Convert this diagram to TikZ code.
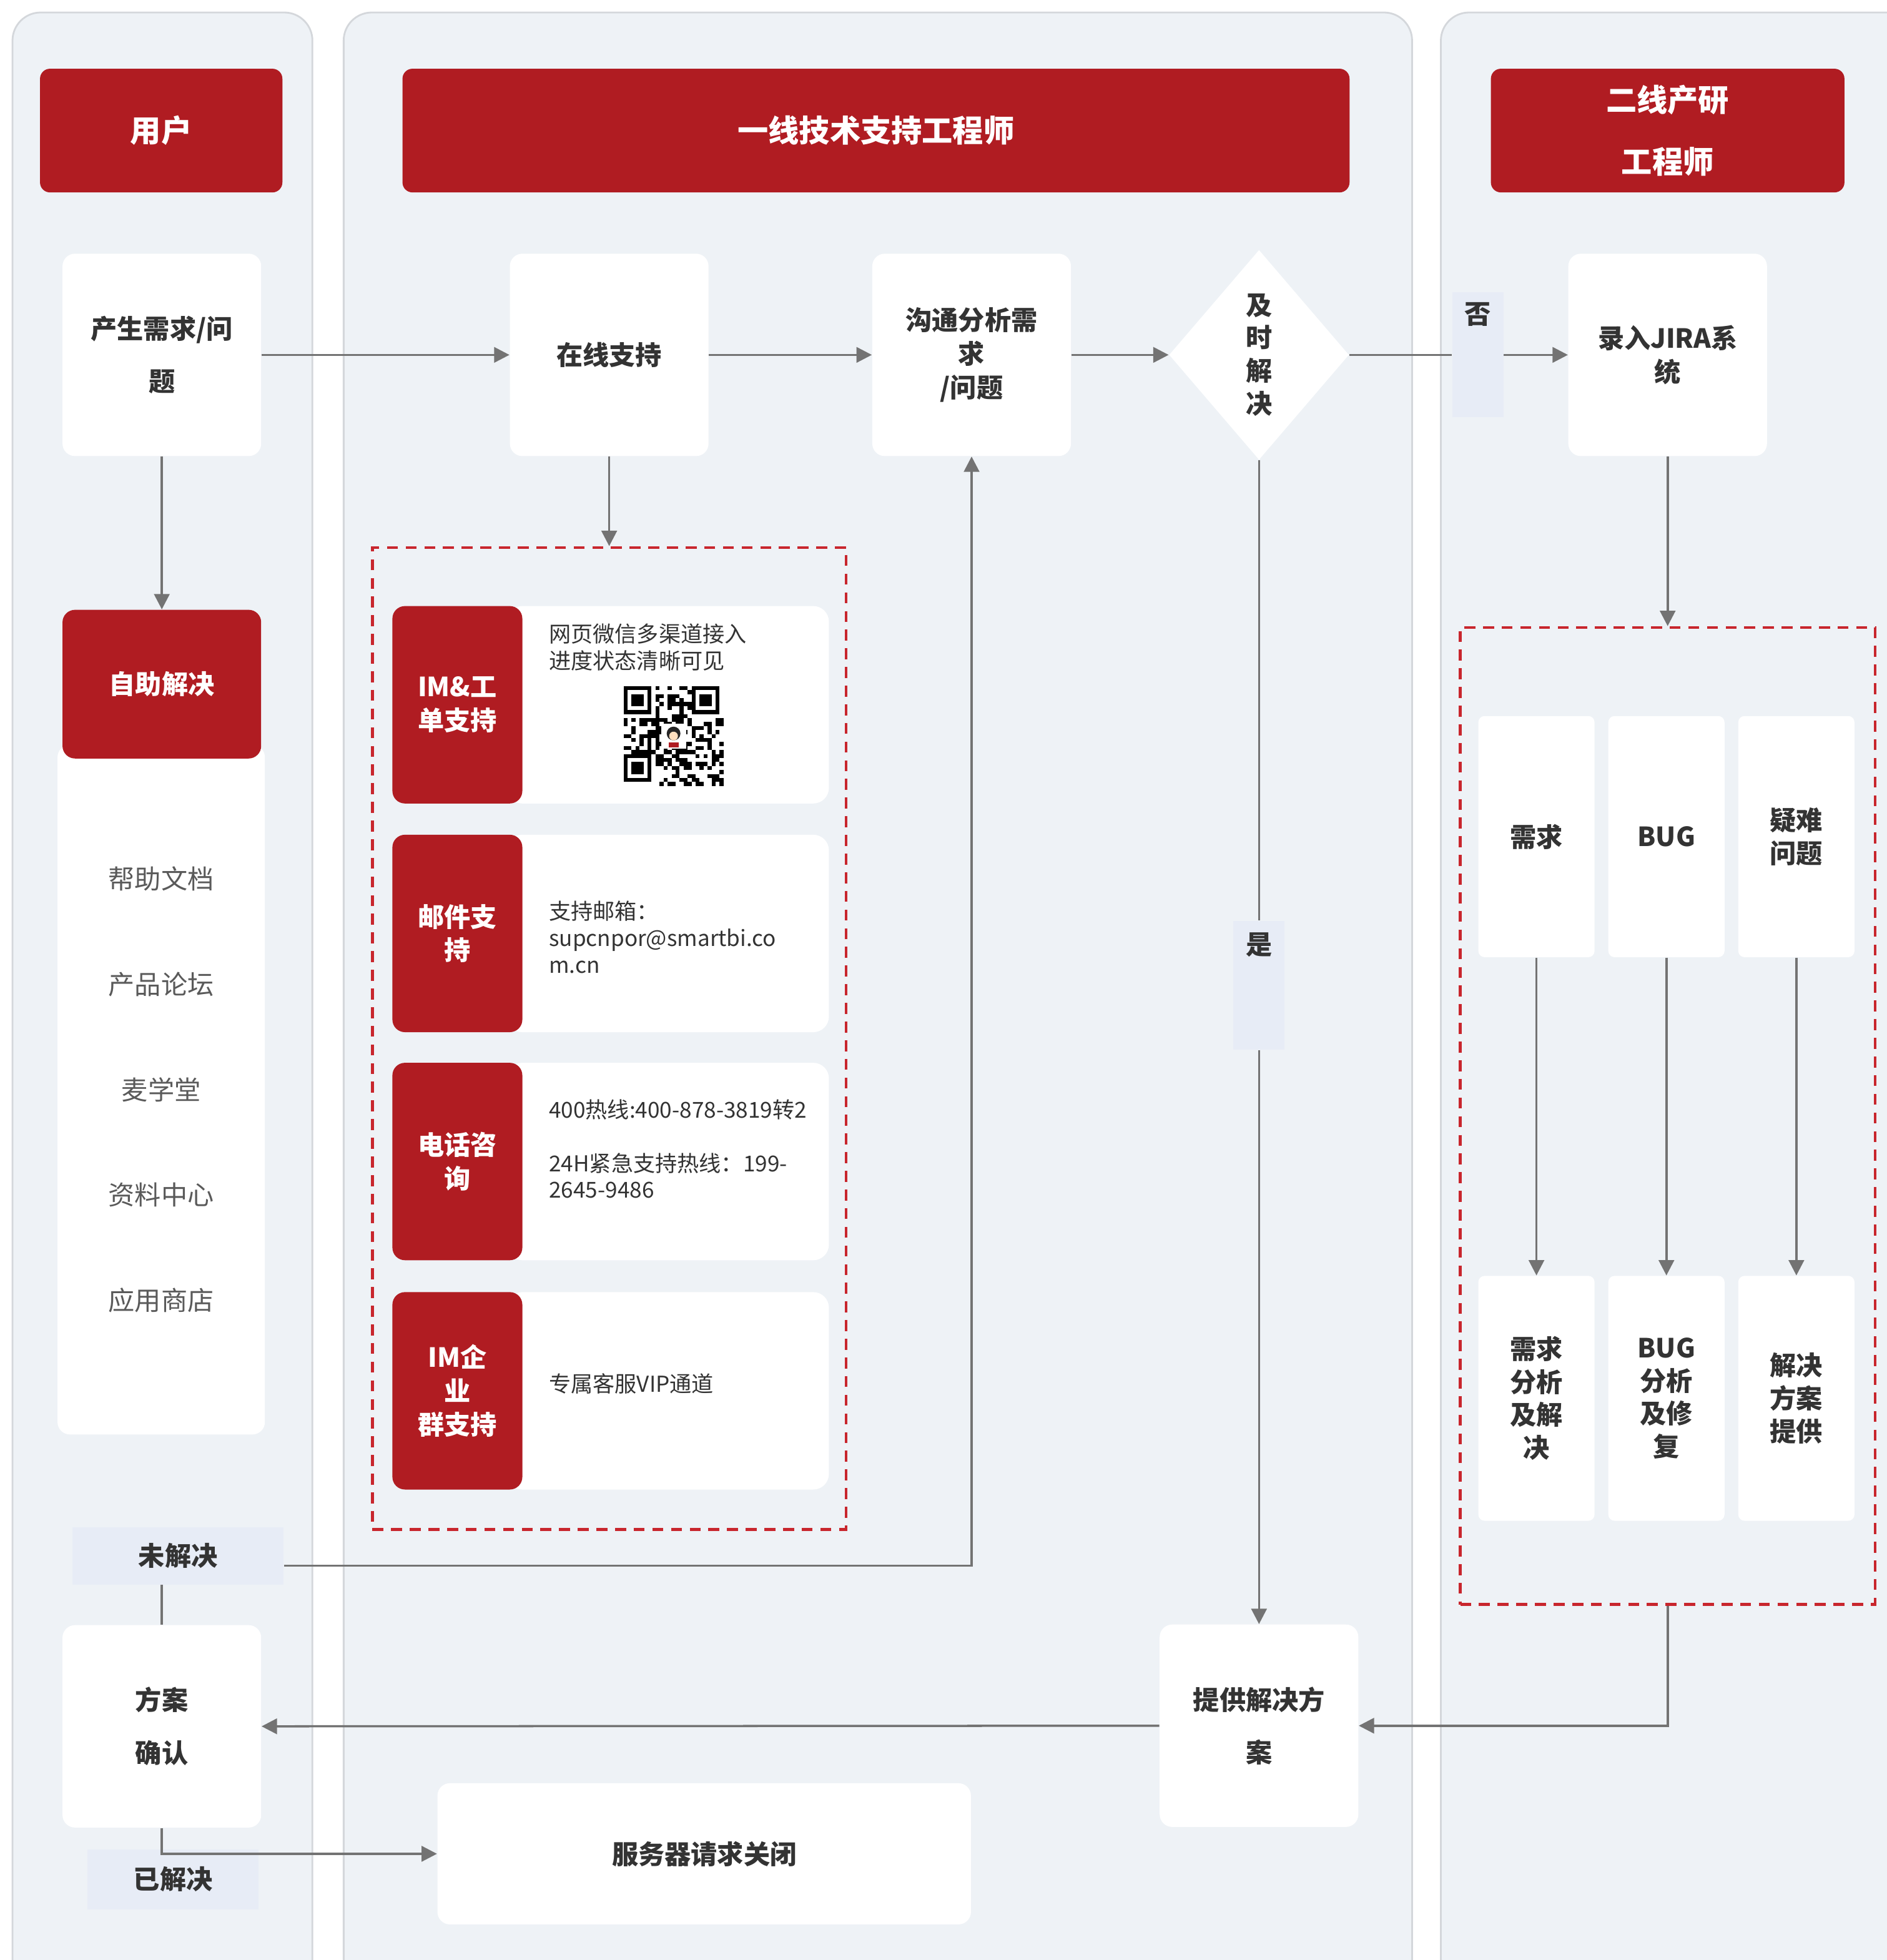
\documentclass[tikz,border=0pt]{standalone}
\usepackage{fontspec}
\setmainfont{Noto Sans CJK SC}
\usetikzlibrary{shapes.geometric,arrows.meta}
\definecolor{hdred}{HTML}{B01C22}
\definecolor{dashred}{HTML}{C8262D}
\definecolor{lanebg}{HTML}{EEF2F6}
\definecolor{laneln}{HTML}{D4D7DB}
\definecolor{tagbg}{HTML}{E7ECF6}
\definecolor{flow}{HTML}{737373}
\definecolor{ink}{HTML}{333333}
\definecolor{soft}{HTML}{5A5A5A}
\begin{document}
\begin{tikzpicture}[x=0.02cm,y=-0.02cm,>={Triangle[length=7pt,width=7pt]},
  lane/.style={fill=lanebg,draw=laneln,line width=0.8pt,rounded corners=0.45cm},
  headbox/.style={fill=hdred,rounded corners=0.16cm,text=white,align=center,inner sep=0pt,
    minimum height=1.98cm,font=\fontsize{14}{28.4}\selectfont\bfseries},
  card/.style={fill=white,rounded corners=0.2cm,text=ink,align=center,inner sep=0pt,
    minimum width=3.18cm,minimum height=3.24cm,font=\fontsize{12}{15.3}\selectfont\bfseries},
  loose/.style={font=\fontsize{12}{24}\selectfont\bfseries},
  tag/.style={fill=tagbg,text=ink,inner sep=0pt,font=\fontsize{12}{15}\selectfont\bfseries},
  dashbox/.style={draw=dashred,line width=1.2pt,dash pattern=on 5pt off 3.5pt,inner sep=0pt},
  chanlab/.style={fill=hdred,rounded corners=0.2cm,text=white,align=center,inner sep=0pt,
    minimum width=2.08cm,minimum height=3.16cm,font=\fontsize{12}{15.3}\selectfont\bfseries},
  chantxt/.style={fill=white,rounded corners=0.25cm,text=ink,align=left,anchor=west,
    inner xsep=0.68cm,inner ysep=0pt,text width=3.8cm,minimum height=3.16cm,
    font=\fontsize{10}{12.2}\selectfont},
  subcard/.style={fill=white,rounded corners=0.1cm,text=ink,align=center,inner sep=0pt,
    minimum width=1.86cm,font=\fontsize{12}{15}\selectfont\bfseries},
  flowline/.style={draw=flow,line width=1pt}]
  \useasboundingbox (0,0) rectangle (1510,1568.5);
  \draw[lane] (10,10) rectangle (250,1590);
  \draw[lane] (275,10) rectangle (1130,1590);
  \draw[lane] (1153,10) rectangle (1540,1590);

  \node[headbox,minimum width=3.88cm] (huser) at (129,104.5) {用户};
  \node[headbox,minimum width=15.16cm] (hfirst) at (701,104.5) {一线技术支持工程师};
  \node[headbox,minimum width=5.66cm] (hsecond) at (1334.5,104.5) {二线产研\\工程师};

  \node[card,loose] (need) at (129.5,284) {产生需求/问\\题};
  \node[card] (online) at (487.5,284) {在线支持};
  \node[card] (comm) at (777.5,284) {沟通分析需\\求\\/问题};
  \node[diamond,fill=white,inner sep=0pt,minimum width=2.88cm,minimum height=3.36cm,align=center,
    text=ink,font=\fontsize{12}{15}\selectfont\bfseries] (dia) at (1007.5,284) {及\\时\\解\\决};
  \node[tag,minimum width=0.82cm,text height=0.5cm,text depth=1.5cm] (no) at (1182.5,284) {否};
  \node[card] (jira) at (1334.5,284) {录入JIRA系\\统};

  \node[fill=white,rounded corners=0.2cm,minimum width=3.32cm,minimum height=11.04cm,text=soft,
    align=center,font=\fontsize{12}{48}\selectfont] (tools) at (129,872)
    {帮助文档\\产品论坛\\麦学堂\\资料中心\\应用商店};
  \node[chanlab,minimum width=3.18cm,minimum height=2.38cm] (self) at (129.5,547.5) {自助解决};

  \node[tag,minimum width=3.38cm,minimum height=0.92cm] (unres) at (142.5,1245) {未解决};
  \node[card,loose] (confirm) at (129.5,1381.5) {方案\\确认};
  \node[tag,minimum width=2.74cm,minimum height=0.96cm] (res) at (138.5,1504) {已解决};
  \node[card,minimum width=8.54cm,minimum height=2.26cm] (close) at (563.5,1483.5) {服务器请求关闭};
  \node[card,loose] (provide) at (1007.5,1381) {提供解决方\\案};
  \node[tag,minimum width=0.82cm,text height=0.54cm,text depth=1.52cm] (yes) at (1007.5,788.5) {是};

  \node[dashbox,minimum width=7.58cm,minimum height=15.72cm] (chan) at (487.5,831) {};
  \node[chantxt,text height=0.38cm,text depth=2.38cm,inner ysep=0.2cm] (ch1t) at (405,564)
    {网页微信多渠道接入\\进度状态清晰可见};
  \node[chanlab] (ch1) at (366,564) {IM\&工\\单支持};
  \node[chantxt,text height=1.36cm,text depth=1.8cm] (ch2t) at (405,747)
    {\mbox{支持邮箱：}\\\mbox{supcnpor@smartbi.co}\\\mbox{m.cn}};
  \node[chanlab] (ch2) at (366,747) {邮件支\\持};
  \node[chantxt,text height=0.88cm,text depth=2.28cm] (ch3t) at (405,929.5)
    {\mbox{400热线:400-878-3819转2}\\[0.43cm]\mbox{24H紧急支持热线：199-}\\\mbox{2645-9486}};
  \node[chanlab] (ch3) at (366,929.5) {电话咨\\询};
  \node[chantxt,text height=1.6cm,text depth=1.56cm] (ch4t) at (405,1113) {专属客服VIP通道};
  \node[chanlab] (ch4) at (366,1113) {IM企\\业\\群支持};

  \begin{scope}[shift={(499,549)}]
    \pgfmathsetseed{17}
    \foreach \i in {0,...,24}{
      \foreach \j in {0,...,24}{
        \pgfmathtruncatemacro{\qa}{((\i>7)||(\j>7))&&((\i<17)||(\j>7))&&((\i>7)||(\j<17))}
        \pgfmathrandominteger{\qb}{0}{1}
        \ifnum\numexpr\qa*\qb\relax=1
          \fill ({\i*3.2},{\j*3.2}) rectangle ++(3.2,3.2);
        \fi
      }
    }
    \foreach \fx/\fy in {0/0,17/0,0/17}{
      \fill ({\fx*3.2},{\fy*3.2}) rectangle ++(22.4,22.4);
      \fill[white] ({(\fx+1)*3.2},{(\fy+1)*3.2}) rectangle ++(16,16);
      \fill ({(\fx+2)*3.2},{(\fy+2)*3.2}) rectangle ++(9.6,9.6);
    }
    \fill[white] (30,30) rectangle (50,50);
    \fill[black!85] (40,38) circle (5.5);
    \fill[orange!25] (40,40) circle (3.5);
    \fill[hdred] (36,45) rectangle (44,49);
  \end{scope}

  \node[dashbox,minimum width=6.64cm,minimum height=15.64cm] (rbox) at (1334.5,893) {};
  \foreach \cx/\ta/\tb [count=\k] in {1229.5/{需求}/{需求\\分析\\及解\\决},
      1333.5/{BUG}/{BUG\\分析\\及修\\复},1437.5/{疑难\\问题}/{解决\\方案\\提供}}{
    \node[subcard,minimum height=3.86cm] (rt\k) at (\cx,669.5) {\ta};
    \node[subcard,minimum height=3.92cm] (rb\k) at (\cx,1119) {\tb};
    \draw[flowline,->] (rt\k.south) -- (rb\k.north);
  }

  \draw[flowline,->] (need.east) -- (online.west);
  \draw[flowline,->] (online.east) -- (comm.west);
  \draw[flowline,->] (comm.east) -- (dia.west);
  \draw[flowline] (dia.east) -- (no.west);
  \draw[flowline,->] (no.east) -- (jira.west);
  \draw[flowline,->] (need.south) -- (self.north);
  \draw[flowline,->] (online.south) -- (chan.north);
  \draw[flowline] (dia.south) -- (yes.north);
  \draw[flowline,->] (yes.south) -- (provide.north);
  \draw[flowline,->] (jira.south) -- (rbox.north);
  \draw[flowline,->] (rbox.south) |- (provide.east);
  \draw[flowline,->] (provide.west) -- (confirm.east);
  \draw[flowline,->] ([yshift=-0.16cm]unres.east) -| (comm.south);
  \draw[flowline] (unres.south -| confirm.north) -- (confirm.north);
  \draw[flowline,->] (confirm.south) |- (close.west);
\end{tikzpicture}
\end{document}
